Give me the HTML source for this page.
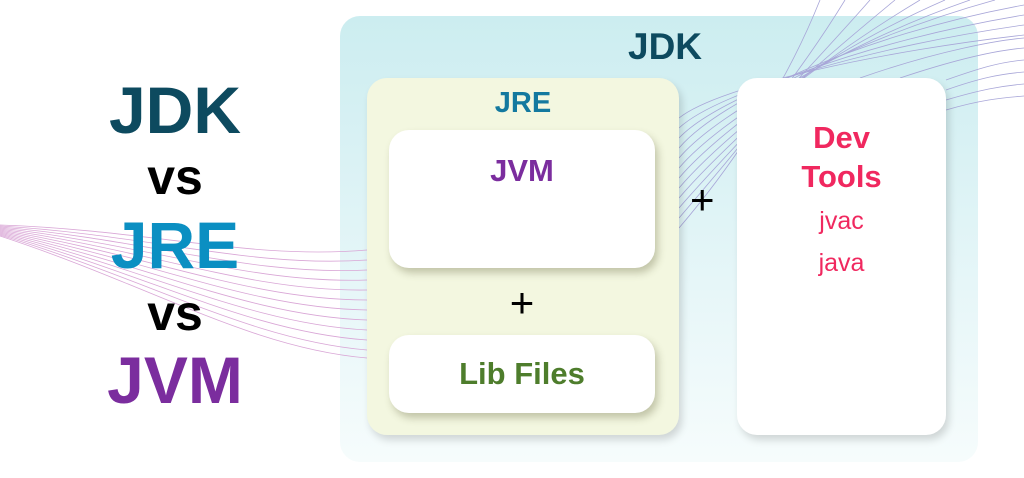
<!DOCTYPE html>
<html><head><meta charset="utf-8"><style>
body{margin:0;width:1024px;height:478px;background:#fff;position:relative;overflow:hidden;font-family:"Liberation Sans",sans-serif}
.a{position:absolute}
.big{font-weight:bold;text-align:center;width:350px;left:0}
.box{position:absolute;border-radius:20px}
</style></head><body>
<div class="box" style="left:340px;top:16px;width:638px;height:446px;background:linear-gradient(#ccedf0,#e6f6f8 60%,#f6fcfc)"></div>
<svg class="a" style="left:0;top:0" width="1024" height="478">
<g fill="none" stroke="#d9a6d6" stroke-width="0.8">
<path d="M0 225 C150 230,250 260,367 250"/><path d="M0 226 C150 235,250 268,367 260"/><path d="M0 227 C150 240,250 276,367 270"/><path d="M0 228 C150 245,250 284,367 280"/><path d="M0 229 C150 250,250 292,367 290"/><path d="M0 230 C150 255,250 300,367 300"/><path d="M0 231 C150 260,250 308,367 310"/><path d="M0 232 C150 265,250 316,367 320"/><path d="M0 233 C150 270,250 324,367 330"/><path d="M0 234 C150 275,250 332,367 340"/><path d="M0 235 C150 280,250 340,367 350"/><path d="M0 236 C150 285,250 348,367 358"/>
</g>
<g fill="none" stroke="#a8a6d8" stroke-width="0.8">
<path d="M679 228 C720 180,780 100,820 0"/><path d="M679 218 C720 170,790 90,845 0"/><path d="M679 208 C720 160,800 80,870 0"/><path d="M679 198 C720 150,810 70,895 0"/><path d="M679 188 C720 140,820 60,920 0"/><path d="M679 178 C720 130,830 50,945 0"/><path d="M679 168 C720 120,840 45,970 0"/><path d="M679 158 C720 110,850 40,995 0"/><path d="M679 148 C720 100,860 35,1024 5"/><path d="M679 138 C720 95,870 40,1024 15"/><path d="M679 128 C720 90,880 45,1024 25"/><path d="M679 118 C720 85,890 50,1024 35"/>
<path d="M946 110 C980 100,1000 98,1024 96"/><path d="M946 100 C980 90,1000 86,1024 84"/><path d="M946 90 C980 78,1000 74,1024 72"/><path d="M946 80 C980 68,1000 62,1024 60"/><path d="M900 78 C960 58,1000 50,1024 48"/><path d="M860 78 C940 50,1000 40,1024 38"/>
</g>
</svg>
<div class="box" style="left:367px;top:78px;width:312px;height:357px;background:#f3f7e0;box-shadow:3px 5px 8px rgba(0,0,0,.15)"></div>
<div class="box" style="left:389px;top:130px;width:266px;height:138px;background:#fff;box-shadow:3px 5px 8px rgba(80,80,40,.3)"></div>
<div class="box" style="left:389px;top:335px;width:266px;height:78px;background:#fff;box-shadow:3px 5px 8px rgba(80,80,40,.3)"></div>
<div class="box" style="left:737px;top:78px;width:209px;height:357px;background:#fff;box-shadow:3px 5px 8px rgba(0,0,0,.15)"></div>
<div class="a big" style="top:72px;font-size:66px;color:#0d4a5f">JDK</div>
<div class="a big" style="top:148px;font-size:50px;color:#000">vs</div>
<div class="a big" style="top:207px;font-size:66px;color:#0b8fc2">JRE</div>
<div class="a big" style="top:284px;font-size:50px;color:#000">vs</div>
<div class="a big" style="top:342px;font-size:66px;color:#7b2d9e">JVM</div>
<div class="a" style="left:628px;top:26px;font-size:37px;font-weight:bold;color:#0d4a5f">JDK</div>
<div class="a" style="left:367px;width:312px;text-align:center;top:87px;font-size:29px;font-weight:bold;color:#13799f">JRE</div>
<div class="a" style="left:389px;width:266px;text-align:center;top:153px;font-size:31px;font-weight:bold;color:#7b2d9e">JVM</div>
<div class="a" style="left:389px;width:266px;text-align:center;top:283px;font-size:42px;font-weight:300;color:#000;line-height:40px">+</div>
<div class="a" style="left:389px;width:266px;text-align:center;top:356px;font-size:31px;font-weight:bold;color:#4e7d2c">Lib Files</div>
<div class="a" style="left:690px;top:180px;font-size:42px;color:#000;line-height:40px">+</div>
<div class="a" style="left:737px;width:209px;text-align:center;top:118px;font-size:31px;font-weight:bold;color:#f0285f;line-height:39px">Dev<br>Tools</div>
<div class="a" style="left:737px;width:209px;text-align:center;top:200px;font-size:25px;color:#f0285f;line-height:42px">jvac<br>java</div>
</body></html>
